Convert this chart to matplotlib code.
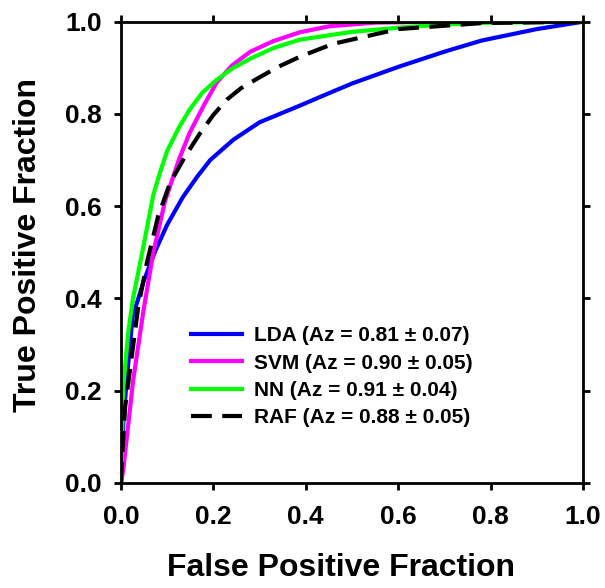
## ROC curves for four classifiers
import matplotlib
matplotlib.use("Agg")
import matplotlib.pyplot as plt

plt.rcParams['font.family'] = ['Liberation Sans', 'DejaVu Sans']
plt.rcParams['font.weight'] = 'bold'

## Data (false positive fraction, true positive fraction)
lda_fpf = [0, 0.005, 0.012, 0.025, 0.05, 0.075, 0.1, 0.134, 0.165, 0.193, 0.243, 0.30, 0.387,
           0.45, 0.5, 0.6, 0.7, 0.78, 0.9, 1.0]
lda_tpf = [0, 0.13, 0.22, 0.36, 0.44, 0.505, 0.56, 0.62, 0.664, 0.70, 0.744, 0.782, 0.818,
           0.845, 0.866, 0.902, 0.935, 0.959, 0.984, 1.0]

svm_fpf = [0, 0.005, 0.026, 0.048, 0.07, 0.095, 0.125, 0.149, 0.18, 0.207, 0.24, 0.28, 0.33,
           0.387, 0.45, 0.55, 0.7, 1.0]
svm_tpf = [0, 0.03, 0.22, 0.37, 0.5, 0.61, 0.70, 0.76, 0.82, 0.868, 0.905, 0.935, 0.958,
           0.977, 0.99, 0.998, 1.0, 1.0]

nn_fpf = [0, 0.001, 0.005, 0.016, 0.026, 0.048, 0.07, 0.085, 0.1, 0.125, 0.149, 0.175, 0.207,
          0.24, 0.28, 0.33, 0.387, 0.5, 0.6, 0.7, 0.8, 1.0]
nn_tpf = [0, 0.05, 0.21, 0.33, 0.40, 0.51, 0.625, 0.675, 0.72, 0.77, 0.81, 0.845, 0.874,
          0.898, 0.92, 0.943, 0.961, 0.978, 0.987, 0.994, 0.998, 1.0]

raf_fpf = [0, 0.002, 0.009, 0.024, 0.037, 0.056, 0.08, 0.106, 0.14, 0.171, 0.2, 0.229, 0.26,
           0.294, 0.34, 0.387, 0.459, 0.6, 0.78, 1.0]
raf_tpf = [0, 0.05, 0.165, 0.28, 0.38, 0.477, 0.577, 0.65, 0.71, 0.758, 0.798, 0.831, 0.856,
           0.876, 0.902, 0.924, 0.952, 0.984, 0.997, 1.0]

labels = ['LDA (Az = 0.81 \u00b1 0.07)', 'SVM (Az = 0.90 \u00b1 0.05)',
          'NN (Az = 0.91 \u00b1 0.04)', 'RAF (Az = 0.88 \u00b1 0.05)']
ticks = [0.0, 0.2, 0.4, 0.6, 0.8, 1.0]

fig = plt.figure(figsize=(6.05, 5.88), dpi=100)
ax = fig.add_axes([121/605, 1 - 483/588, 462/605, 461.3/588])

ax.plot(lda_fpf, lda_tpf, color='#0000ff', lw=3, label=labels[0])
ax.plot(svm_fpf, svm_tpf, color='#ff00ff', lw=3, label=labels[1])
ax.plot(nn_fpf, nn_tpf, color='#00ff00', lw=3, label=labels[2])
ax.plot(raf_fpf, raf_tpf, color='black', lw=3, linestyle=(0, (5, 2.5)), label=labels[3])

ax.set_xlim(0, 1)
ax.set_ylim(0, 1)
ax.set_xticks(ticks)
ax.set_yticks(ticks)
ax.set_xticklabels([f'{t:.1f}' for t in ticks])
ax.set_yticklabels([f'{t:.1f}' for t in ticks])
for s in ax.spines.values():
    s.set_linewidth(2)
ax.tick_params(axis='both', direction='out', length=5, width=2,
               top=True, right=True, labelsize=19)
ax.tick_params(axis='x', pad=11)
ax.tick_params(axis='y', pad=9)

ax.set_xlabel('False Positive Fraction', fontsize=23, fontweight='bold')
ax.set_ylabel('True Positive Fraction', fontsize=23, fontweight='bold')
ax.xaxis.set_label_coords(0.477, -0.152)
ax.yaxis.set_label_coords(-0.168, 0.516)

leg = ax.legend(loc='center', bbox_to_anchor=(0.456, 0.23), frameon=False,
                fontsize=15, handlelength=2.45, handletextpad=0.55,
                labelspacing=0.4, borderaxespad=0)
for t in leg.get_texts():
    t.set_fontweight('bold')

fig.savefig('out.png', dpi=100)
